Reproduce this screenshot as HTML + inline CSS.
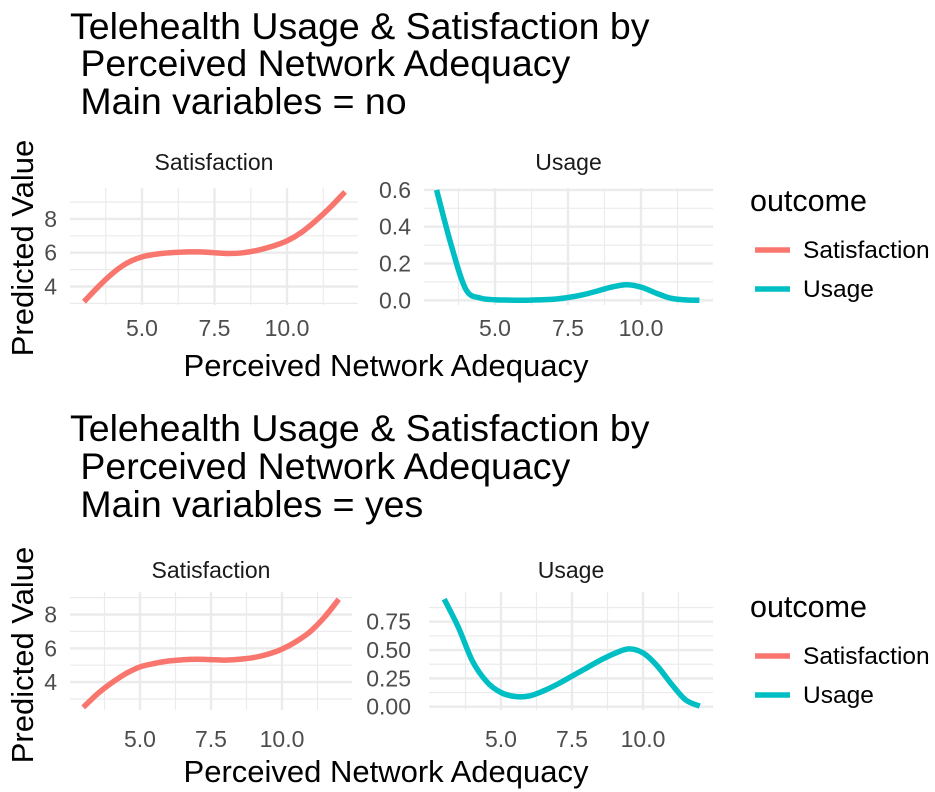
<!DOCTYPE html>
<html><head><meta charset="utf-8"><style>
body{margin:0;background:#fff}
svg{display:block;font-family:"Liberation Sans",Arial,sans-serif}
</style></head><body>
<svg id="chart" width="935" height="792" viewBox="0 0 935 792" xmlns="http://www.w3.org/2000/svg">
<g font-size="37.5" fill="#000">
<text x="70" y="39">Telehealth Usage &amp; Satisfaction by</text>
<text x="70" y="76" xml:space="preserve"> Perceived Network Adequacy</text>
<text x="70" y="114" xml:space="preserve"> Main variables = no</text>
</g>
<g font-size="37.5" fill="#000">
<text x="70" y="441">Telehealth Usage &amp; Satisfaction by</text>
<text x="70" y="479" xml:space="preserve"> Perceived Network Adequacy</text>
<text x="70" y="517" xml:space="preserve"> Main variables = yes</text>
</g>
<g id="plots"></g>
</svg>
<script>
const xCats = [3,3.5,4,4.5,5,5.5,6,6.5,7,7.5,8,8.5,9,9.5,10,10.5,11,11.5,12];
const satNo  = [3.1,4.0,4.8,5.4,5.75,5.92,6.0,6.04,6.05,6.0,5.95,6.0,6.15,6.38,6.7,7.2,7.9,8.7,9.6];
const useNo  = [0.6,0.3,0.06,0.012,0.003,0.001,0.0,0.002,0.006,0.015,0.03,0.05,0.072,0.085,0.072,0.04,0.012,0.002,0.0];
const satYes = [2.5,3.3,3.95,4.5,4.9,5.1,5.25,5.32,5.35,5.33,5.3,5.35,5.45,5.65,5.95,6.4,7.0,7.85,8.9];
const useYes = [0.95,0.7,0.4,0.22,0.125,0.09,0.095,0.14,0.2,0.27,0.34,0.41,0.47,0.51,0.475,0.36,0.2,0.06,0.005];
const xTicks = [5,7.5,10];
const xTickLabels = ['5.0','7.5','10.0'];
const satTicksNo = [4,6,8];
const useTicksNo = [0,0.2,0.4,0.6];
const useTickLabelsNo = ['0.0','0.2','0.4','0.6'];
const satTicksYes = [4,6,8];
const useTicksYes = [0,0.25,0.5,0.75];
const useTickLabelsYes = ['0.00','0.25','0.50','0.75'];

const NS='http://www.w3.org/2000/svg';
const root=document.getElementById('plots');
function mk(tag,attrs,parent){const e=document.createElementNS(NS,tag);for(const k in attrs)e.setAttribute(k,attrs[k]);(parent||root).appendChild(e);return e;}
function smooth(pts){
  let d='M'+pts[0][0].toFixed(1)+','+pts[0][1].toFixed(1);
  for(let i=0;i<pts.length-1;i++){
    const p0=pts[i-1]||pts[i],p1=pts[i],p2=pts[i+1],p3=pts[i+2]||p2;
    const c1=[p1[0]+(p2[0]-p0[0])/6,p1[1]+(p2[1]-p0[1])/6];
    const c2=[p2[0]-(p3[0]-p1[0])/6,p2[1]-(p3[1]-p1[1])/6];
    d+=' C'+c1[0].toFixed(1)+','+c1[1].toFixed(1)+' '+c2[0].toFixed(1)+','+c2[1].toFixed(1)+' '+p2[0].toFixed(1)+','+p2[1].toFixed(1);
  }
  return d;
}
function panel(p){
  const g=mk('g',{});
  
  
  const sx=v=>p.x5+(v-5)*p.ux, sy=v=>p.y0-(v-p.v0)*p.uy;
  [3.75,6.25,8.75,11.25].forEach(v=>{const X=sx(v);if(X>p.l&&X<p.r){mk('line',{x1:X,x2:X,y1:p.t,y2:p.b,stroke:'#ebebeb','stroke-width':1.2},g);}});
  p.minorY.forEach(v=>{const Y=sy(v);mk('line',{x1:p.l,x2:p.r,y1:Y,y2:Y,stroke:'#ebebeb','stroke-width':1.2},g);});
  xTicks.forEach(v=>{const X=sx(v);mk('line',{x1:X,x2:X,y1:p.t,y2:p.b,stroke:'#ebebeb','stroke-width':2.4},g);});
  p.yTicks.forEach(v=>{const Y=sy(v);mk('line',{x1:p.l,x2:p.r,y1:Y,y2:Y,stroke:'#ebebeb','stroke-width':2.4},g);});
  xTicks.forEach((v,i)=>{const t=mk('text',{x:sx(v),y:p.xLabY,'text-anchor':'middle','font-size':23,fill:'#4d4d4d'},g);t.textContent=xTickLabels[i];
    
    });
  p.yTicks.forEach((v,i)=>{const t=mk('text',{x:p.yLabX,y:sy(v)+8,'text-anchor':'end','font-size':23,fill:'#4d4d4d'},g);t.textContent=p.yLabels[i];
    
    });
  const st=mk('text',{x:(p.l+p.r)/2,y:p.stripY,'text-anchor':'middle','font-size':23,fill:'#1a1a1a'},g);st.textContent=p.strip;
  
  
  const pts=xCats.map((x,i)=>[sx(x),sy(p.vals[i])]);
  const path=mk('path',{d:smooth(pts),fill:'none',stroke:p.color,'stroke-width':5.5,'stroke-linejoin':'round'},g);
  
  
}
function label(txt,attrs,name){const t=mk('text',attrs);t.textContent=txt;
  
  return t;}
function legend(y0,name){
  const g=mk('g',{});
  
  
  const t=mk('text',{x:750,y:y0,'font-size':30.5,fill:'#000'},g);t.textContent='outcome';
  [['Satisfaction','#f8766d',47],['Usage','#00bfc4',86]].forEach(([n,c,dy])=>{
    const e=mk('g',{},g);
    
    
    mk('line',{x1:755,x2:790,y1:y0+dy-8,y2:y0+dy-8,stroke:c,'stroke-width':5.5},e);
    const tt=mk('text',{x:803,y:y0+dy,'font-size':24.5,fill:'#000'},e);tt.textContent=n;
  });
}
panel({name:'top-satisfaction-panel',l:70,r:358,t:188,b:305,x5:142,ux:29,y0:252.7,v0:6,uy:16.9,yTicks:satTicksNo,yLabels:['4','6','8'],minorY:[3,5,7,9],vals:satNo,color:'#f8766d',strip:'Satisfaction',stripY:170,xLabY:336,yLabX:57});
panel({name:'top-usage-panel',l:424,r:713,t:188,b:305,x5:495,ux:29.2,y0:300.3,v0:0,uy:184,yTicks:useTicksNo,yLabels:useTickLabelsNo,minorY:[0.1,0.3,0.5],vals:useNo,color:'#00bfc4',strip:'Usage',stripY:170,xLabY:336,yLabX:411});
label('Perceived Network Adequacy',{x:386,y:376,'text-anchor':'middle','font-size':31,fill:'#000'},'top-x-axis-title');
legend(211,'top-legend');
panel({name:'bottom-satisfaction-panel',l:70,r:352,t:592,b:710,x5:140,ux:28.4,y0:648.3,v0:6,uy:16.9,yTicks:satTicksYes,yLabels:['4','6','8'],minorY:[3,5,7,9],vals:satYes,color:'#f8766d',strip:'Satisfaction',stripY:578,xLabY:747,yLabX:57});
panel({name:'bottom-usage-panel',l:429,r:713,t:592,b:710,x5:501,ux:28.4,y0:706.7,v0:0,uy:113.3,yTicks:useTicksYes,yLabels:useTickLabelsYes,minorY:[0.125,0.375,0.625,0.875],vals:useYes,color:'#00bfc4',strip:'Usage',stripY:578,xLabY:747,yLabX:411});
label('Perceived Network Adequacy',{x:386,y:782,'text-anchor':'middle','font-size':31,fill:'#000'},'bottom-x-axis-title');
legend(617,'bottom-legend');
label('Predicted Value',{x:0,y:0,transform:'translate(33,248) rotate(-90)','text-anchor':'middle','font-size':31,fill:'#000'},'top-y-axis-title');
label('Predicted Value',{x:0,y:0,transform:'translate(33,655) rotate(-90)','text-anchor':'middle','font-size':31,fill:'#000'},'bottom-y-axis-title');
</script>
</body></html>
